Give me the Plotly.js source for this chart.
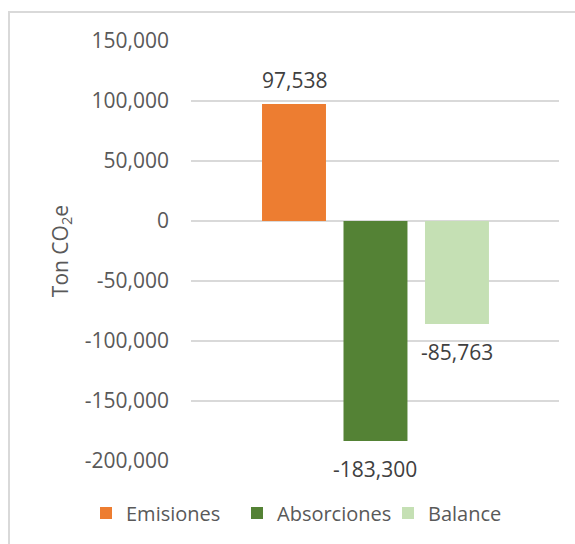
<!DOCTYPE html>
<html>
<head>
<meta charset="utf-8">
<script src="https://cdn.plot.ly/plotly-3.0.1.min.js"></script>
<style>
  html, body { margin: 0; padding: 0; background: #fff; overflow: hidden; }
  #chart { width: 575px; height: 544px; position: relative; }
  #frame { position: absolute; left: 8px; top: 11px; width: 700px; height: 700px;
           border: 2px solid #D9D9D9; pointer-events: none; box-sizing: border-box; }
</style>
</head>
<body>
<div id="chart"></div>
<div id="frame"></div>
<script>
// ---- data ----
const categories = ["Emisiones", "Absorciones", "Balance"];
const values = [97538, -183300, -85763];
const colors = ["#ED7D31", "#548235", "#C5E0B4"];
const tickValues = [-200000, -150000, -100000, -50000, 0, 50000, 100000, 150000];
const tickLabels = ["-200,000", "-150,000", "-100,000", "-50,000", "0", "50,000", "100,000", "150,000"];
const yTitle = "Ton CO<sub>2</sub>e";

const FONT = "Open Sans, Noto Sans, sans-serif";

const traces = categories.map((c, i) => ({
  type: "bar",
  name: c,
  x: [c],
  y: [values[i]],
  marker: { color: colors[i], line: { width: 0 } },
  hoverinfo: "none"
}));

const annotations = categories.map((c, i) => ({
  x: c,
  y: values[i],
  xref: "x",
  yref: "y",
  text: values[i].toLocaleString("en-US"),
  showarrow: false,
  yanchor: "middle",
  xanchor: "center",
  yshift: values[i] >= 0 ? 24 : -28,
  font: { family: FONT, size: 21, color: "#404040" }
}));

const layout = {
  width: 575,
  height: 544,
  margin: { l: 191, r: 16, t: 41, b: 83, pad: 0 },
  paper_bgcolor: "#ffffff",
  plot_bgcolor: "#ffffff",
  barmode: "overlay",
  bargap: 0.215,
  showlegend: true,
  legend: {
    orientation: "h",
    xref: "paper",
    yref: "paper",
    x: (86 - 191) / 368,
    xanchor: "left",
    y: -52 / 420,
    yanchor: "middle",
    entrywidthmode: "pixels",
    entrywidth: 106,
    font: { family: FONT, size: 20, color: "#595959" },
    itemclick: false,
    traceorder: "normal"
  },
  xaxis: {
    type: "category",
    range: [-1.264, 3.252],
    showticklabels: false,
    showgrid: false,
    zeroline: false,
    showline: false,
    ticks: ""
  },
  yaxis: {
    range: [-200000, 150000],
    tickvals: tickValues,
    ticktext: tickLabels,
    ticks: "",
    ticklabelstandoff: 21,
    showgrid: true,
    gridcolor: "#D9D9D9",
    gridwidth: 1.5,
    zeroline: true,
    zerolinecolor: "#D9D9D9",
    zerolinewidth: 1.5,
    showline: false,
    automargin: false,
    tickfont: { family: FONT, size: 21, color: "#595959" },
    title: {
      text: yTitle,
      standoff: 10,
      font: { family: FONT, size: 21, color: "#595959" }
    }
  },
  annotations: annotations
};

Plotly.newPlot("chart", traces, layout, { displayModeBar: false, staticPlot: true });
</script>
</body>
</html>
